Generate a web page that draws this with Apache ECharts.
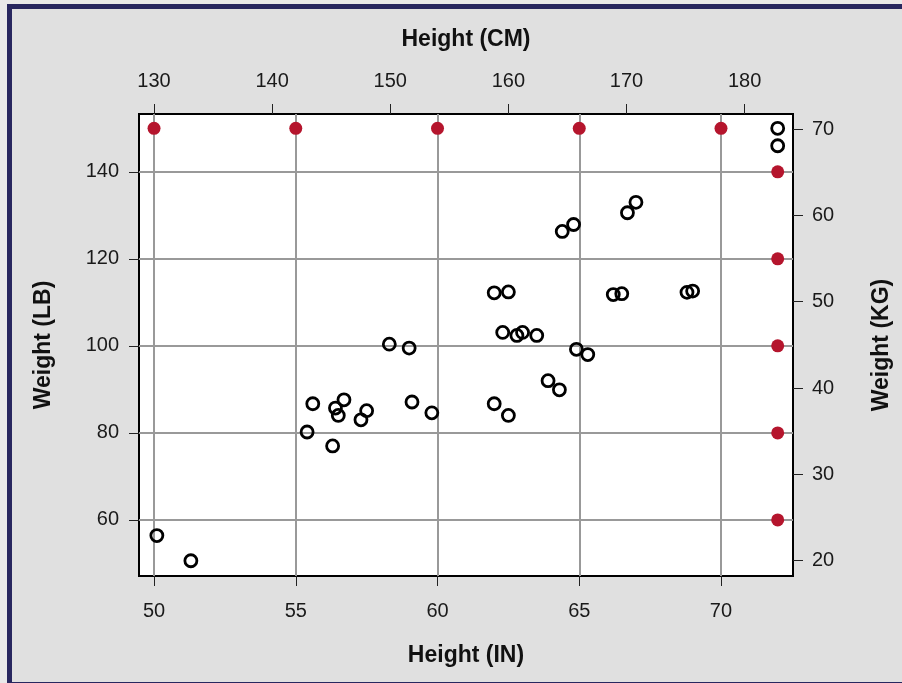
<!DOCTYPE html>
<html>
<head>
<meta charset="utf-8">
<script src="https://cdn.jsdelivr.net/npm/echarts@6/dist/echarts.min.js"></script>
<style>
  html, body { margin: 0; padding: 0; width: 902px; height: 683px; overflow: hidden; background: #e9e9e9; }
  #frame { position: absolute; left: 7px; top: 4px; width: 910px; height: 673px; border: 5px solid #28275f; background: #e0e0e0; }
  #main { position: absolute; left: 0; top: 0; width: 902px; height: 683px; }
</style>
</head>
<body>
<div id="frame"></div>
<div id="main"></div>
<script>
// Measured people: height in inches, weight in pounds
const heightIn = [72.0, 72.0, 67.0, 66.7, 64.8, 64.4, 62.5, 62.0, 66.5, 66.2, 69.0, 68.8,
                  62.3, 62.8, 63.0, 63.5, 64.9, 65.3, 63.9, 64.3, 62.0, 62.5,
                  58.3, 59.0, 55.6, 56.7, 56.4, 56.5, 57.5, 57.3, 59.1, 59.8, 55.4, 56.3, 50.1, 51.3];
const weightLb = [150.0, 146.0, 133.0, 130.6, 127.9, 126.3, 112.4, 112.2, 112.0, 111.8, 112.6, 112.3,
                  103.1, 102.4, 103.1, 102.4, 99.2, 98.0, 92.0, 89.9, 86.7, 84.0,
                  100.4, 99.5, 86.7, 87.6, 85.7, 84.0, 85.1, 83.0, 87.1, 84.6, 80.2, 77.0, 56.4, 50.6];
// Reference markers along the top and right edges
const refHeightIn = [50, 55, 60, 65, 70, 72, 72, 72, 72, 72];
const refWeightLb = [150, 150, 150, 150, 150, 140, 120, 100, 80, 60];
// Tick labels
const inTicks = [50, 55, 60, 65, 70];
const cmTicks = [130, 140, 150, 160, 170, 180];
const lbTicks = [60, 80, 100, 120, 140];
const kgTicks = [20, 30, 40, 50, 60, 70];

const pts = heightIn.map((h, i) => [h, weightLb[i]]);
const refPts = refHeightIn.map((h, i) => [h, refWeightLb[i]]);

const font = "'Liberation Sans', Arial, Helvetica, sans-serif";
const labelStyle = { fontFamily: font, fontSize: 20, color: '#1a1a1a' };
const nameStyle = { fontFamily: font, fontSize: 23, fontWeight: 'bold', color: '#111' };
const tick = (vals) => ({ show: true, inside: false, length: 10, customValues: vals, lineStyle: { color: '#222', width: 1 } });

const chart = echarts.init(document.getElementById('main'), null, { renderer: 'canvas' });
chart.setOption({
  backgroundColor: 'transparent',
  animation: false,
  grid: { left: 139, top: 114, width: 654, height: 462, show: true, backgroundColor: '#ffffff', borderColor: '#000', borderWidth: 2, containLabel: false },
  xAxis: [
    { type: 'value', position: 'bottom', min: 49.47, max: 72.54,
      name: 'Height (IN)', nameLocation: 'middle', nameGap: 68, nameTextStyle: nameStyle,
      axisLine: { show: false }, axisTick: tick(inTicks),
      axisLabel: Object.assign({ margin: 25, customValues: inTicks }, labelStyle),
      splitLine: { show: true, lineStyle: { color: '#999', width: 2 } } },
    { type: 'value', position: 'top', min: 128.73, max: 184.1,
      name: 'Height (CM)', nameLocation: 'middle', nameGap: 63, nameTextStyle: nameStyle,
      axisLine: { show: false }, axisTick: tick(cmTicks),
      axisLabel: Object.assign({ margin: 23, customValues: cmTicks }, labelStyle),
      splitLine: { show: false } }
  ],
  yAxis: [
    { type: 'value', position: 'left', min: 47.1, max: 153.3,
      name: 'Weight (LB)', nameLocation: 'middle', nameGap: 84, nameRotate: 90, nameTextStyle: nameStyle,
      axisLine: { show: false }, axisTick: tick(lbTicks),
      axisLabel: Object.assign({ margin: 20, customValues: lbTicks }, labelStyle),
      splitLine: { show: true, lineStyle: { color: '#999', width: 2 } } },
    { type: 'value', position: 'right', min: 18.23, max: 71.74,
      name: 'Weight (KG)', nameLocation: 'middle', nameGap: 77, nameRotate: 90, nameTextStyle: nameStyle,
      axisLine: { show: false }, axisTick: tick(kgTicks),
      axisLabel: Object.assign({ margin: 19, customValues: kgTicks }, labelStyle),
      splitLine: { show: false } }
  ],
  series: [
    { type: 'scatter', xAxisIndex: 0, yAxisIndex: 0, data: refPts, symbol: 'circle', symbolSize: 13,
      itemStyle: { color: '#b5152d', opacity: 1 }, z: 3 },
    { type: 'scatter', xAxisIndex: 0, yAxisIndex: 0, data: pts, symbol: 'circle', symbolSize: 12,
      itemStyle: { color: 'rgba(0,0,0,0)', borderColor: '#000', borderWidth: 2.8, opacity: 1 }, z: 4 }
  ]
});
</script>
</body>
</html>
